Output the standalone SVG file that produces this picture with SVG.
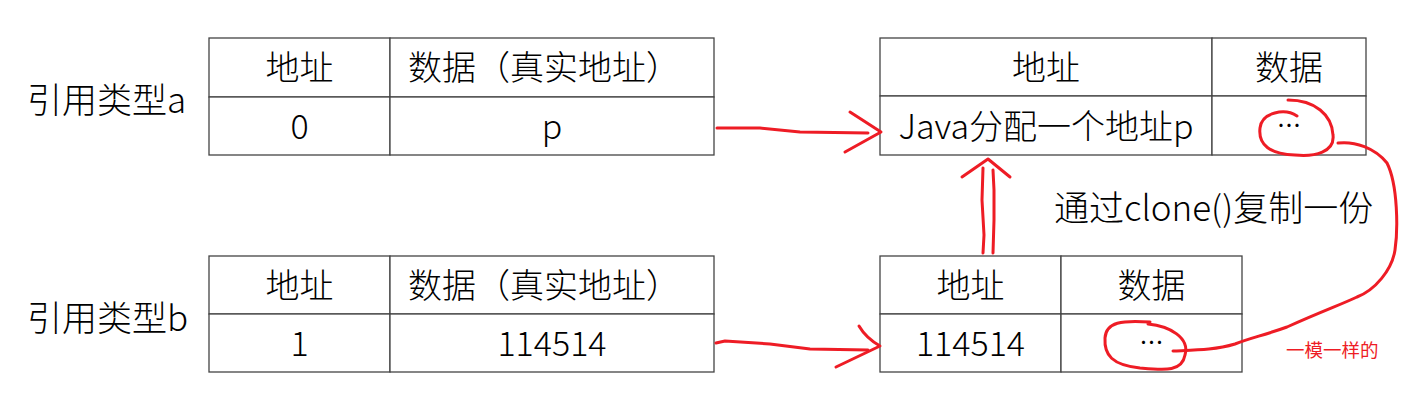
<svg xmlns="http://www.w3.org/2000/svg" width="1402" height="406" viewBox="0 0 1402 406">
<style>
.cell{fill:#fff;stroke:#444;stroke-width:1.3}
.t{font-family:"Noto Sans CJK SC","Liberation Sans",sans-serif;font-size:34px;fill:#000;text-anchor:middle;font-weight:300}
.lbl{font-family:"Noto Sans CJK SC","Liberation Sans",sans-serif;font-size:35px;fill:#000;font-weight:300}
.dots{font-family:"Noto Sans CJK SC",sans-serif;font-size:24px;fill:#000;text-anchor:middle}
.pen{fill:none;stroke:#ee1c25;stroke-width:3;stroke-linecap:round;stroke-linejoin:round}
.note{font-family:"Noto Sans CJK SC",sans-serif;font-size:18.5px;fill:#ee1c25}
</style>
<g id="label-a"><text class="lbl" x="27" y="113">引用类型a</text></g>
<g id="label-b"><text class="lbl" x="27" y="331">引用类型b</text></g>
<g id="table-a">
<rect class="cell" x="209" y="38" width="181" height="59"/>
<rect class="cell" x="390" y="38" width="324" height="59"/>
<rect class="cell" x="209" y="97" width="181" height="58"/>
<rect class="cell" x="390" y="97" width="324" height="58"/>
<text class="t" x="299.5" y="80">地址</text>
<text class="t" x="544" y="80">数据（真实地址）</text>
<text class="t" x="299.5" y="139">0</text>
<text class="t" x="552" y="139">p</text>
</g>
<g id="table-b">
<rect class="cell" x="209" y="256" width="181" height="58"/>
<rect class="cell" x="390" y="256" width="324" height="58"/>
<rect class="cell" x="209" y="314" width="181" height="58"/>
<rect class="cell" x="390" y="314" width="324" height="58"/>
<text class="t" x="299.5" y="298">地址</text>
<text class="t" x="544" y="298">数据（真实地址）</text>
<text class="t" x="299.5" y="356">1</text>
<text class="t" x="552" y="356">114514</text>
</g>
<g id="table-c">
<rect class="cell" x="880" y="38" width="332" height="58"/>
<rect class="cell" x="1212" y="38" width="154" height="58"/>
<rect class="cell" x="880" y="96" width="332" height="59"/>
<rect class="cell" x="1212" y="96" width="154" height="59"/>
<text class="t" x="1046" y="80">地址</text>
<text class="t" x="1289" y="80">数据</text>
<text class="t" x="1046" y="139">Java分配一个地址p</text>
<text class="dots" x="1289" y="134">…</text>
</g>
<g id="table-d">
<rect class="cell" x="880" y="256" width="181" height="58"/>
<rect class="cell" x="1061" y="256" width="181" height="58"/>
<rect class="cell" x="880" y="314" width="181" height="58"/>
<rect class="cell" x="1061" y="314" width="181" height="58"/>
<text class="t" x="970.5" y="298">地址</text>
<text class="t" x="1151.5" y="298">数据</text>
<text class="t" x="970.5" y="356">114514</text>
<text class="dots" x="1151.5" y="351">…</text>
</g>
<g id="clone-label"><text class="lbl" x="1054" y="221">通过clone()复制一份</text></g>
<g id="note"><text class="note" x="1286" y="357">一模一样的</text></g>
<g id="connectors">
<path class="pen" d="M717,128 L760,128 L800,132 L868,133"/>
<path class="pen" d="M850,112 L881,132 L845,152"/>
<path class="pen" d="M716,343 L725,341 L770,344 L810,349 L868,350"/>
<path class="pen" d="M859,326 Q866,338 880,346 L836,367"/>
<path class="pen" d="M983,253 L984,235 L982,200 L983,168"/>
<path class="pen" d="M993,253 L994,220 L994,190 L993,170"/>
<path class="pen" d="M962,177 L988,159 L1010,177"/>
<path class="pen" d="M1288,100 C1315,100 1332,115 1333,135 C1335,152 1315,157 1295,155 C1270,154 1258,145 1260,128 C1262,112 1285,108 1297,116"/>
<path class="pen" d="M1148,324 C1170,326 1190,338 1185,355 C1182,372 1165,370 1140,368 C1112,365 1104,355 1105,338 C1106,322 1122,320 1150,322"/>
<path class="pen" d="M1338,143 C1355,141 1375,148 1387,163 C1398,185 1398,230 1395,250 C1392,270 1375,290 1357,297 C1340,305 1325,310 1287,327 C1265,335 1250,338 1235,344 C1215,350 1195,350 1173,351"/>
</g>
</svg>
